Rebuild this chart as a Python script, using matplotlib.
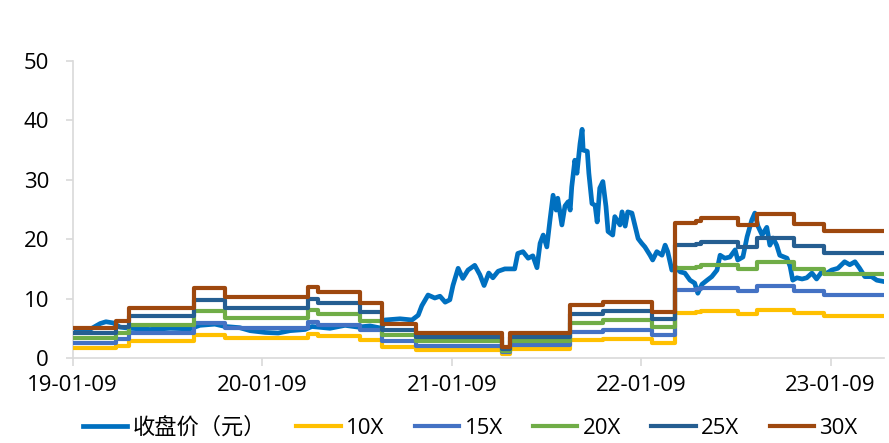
import numpy as np
import pandas as pd
import matplotlib
matplotlib.use("Agg")
import matplotlib.pyplot as plt
import matplotlib.dates as mdates

plt.rcParams['font.family'] = ['Open Sans', 'Noto Sans CJK SC', 'DejaVu Sans']

# closing price (yuan)
price_dates = [
    '2019-01-09', '2019-02-11', '2019-03-03', '2019-03-14', '2019-03-28', '2019-04-10',
    '2019-04-29', '2019-06-07', '2019-07-16', '2019-08-23', '2019-09-11', '2019-10-10',
    '2019-10-30', '2019-11-27', '2019-12-17', '2020-01-15', '2020-02-09', '2020-03-03',
    '2020-04-01', '2020-04-14', '2020-05-19', '2020-06-17', '2020-07-12', '2020-08-04',
    '2020-08-27', '2020-09-02', '2020-10-01', '2020-10-24', '2020-11-05', '2020-11-12',
    '2020-11-24', '2020-12-07', '2020-12-17', '2020-12-27', '2021-01-05', '2021-01-11',
    '2021-01-21', '2021-01-30', '2021-02-09', '2021-02-22', '2021-03-04', '2021-03-12',
    '2021-03-21', '2021-03-29', '2021-04-08', '2021-04-21', '2021-05-10', '2021-05-16',
    '2021-05-26', '2021-06-05', '2021-06-14', '2021-06-22', '2021-06-28', '2021-07-04',
    '2021-07-11', '2021-07-17', '2021-07-23', '2021-07-29', '2021-08-01', '2021-08-09',
    '2021-08-15', '2021-08-21', '2021-08-25', '2021-08-28', '2021-09-03', '2021-09-07',
    '2021-09-13', '2021-09-17', '2021-09-19', '2021-09-27', '2021-09-30', '2021-10-06',
    '2021-10-12', '2021-10-16', '2021-10-21', '2021-10-27', '2021-11-02', '2021-11-06',
    '2021-11-15', '2021-11-19', '2021-11-29', '2021-12-03', '2021-12-09', '2021-12-14',
    '2021-12-22', '2022-01-03', '2022-01-10', '2022-01-16', '2022-01-26', '2022-01-31',
    '2022-02-08', '2022-02-18', '2022-02-24', '2022-03-01', '2022-03-09', '2022-03-15',
    '2022-03-25', '2022-04-03', '2022-04-13', '2022-04-22', '2022-04-28', '2022-05-06',
    '2022-05-16', '2022-05-25', '2022-06-04', '2022-06-10', '2022-06-19', '2022-06-29',
    '2022-07-09', '2022-07-14', '2022-07-24', '2022-08-01', '2022-08-10', '2022-08-16',
    '2022-08-22', '2022-08-30', '2022-09-08', '2022-09-14', '2022-09-20', '2022-09-27',
    '2022-10-03', '2022-10-17', '2022-10-23', '2022-10-28', '2022-11-05', '2022-11-15',
    '2022-11-24', '2022-12-04', '2022-12-13', '2022-12-23', '2023-01-02', '2023-01-11',
    '2023-01-23', '2023-02-05', '2023-02-15', '2023-02-25', '2023-03-06', '2023-03-16',
    '2023-03-29', '2023-04-08', '2023-04-20',
]
price = [
    4.7, 4.8, 5.8, 6.1, 5.9, 5.2,
    5.0, 4.8, 5.0, 4.9, 5.5, 5.7,
    5.3, 5.1, 4.6, 4.3, 4.2, 4.6,
    4.8, 5.3, 5.0, 5.5, 5.2, 5.4,
    5.0, 6.4, 6.6, 6.4, 7.2, 8.8,
    10.6, 10.1, 10.4, 9.4, 9.8, 12.2,
    15.1, 13.4, 14.8, 15.6, 14.0, 12.2,
    14.3, 13.5, 14.6, 15.0, 15.0, 17.6,
    17.9, 16.8, 17.2, 15.2, 19.3, 20.7,
    18.7, 23.2, 27.4, 24.9, 26.9, 22.4,
    25.6, 26.3, 24.9, 28.8, 33.3, 31.1,
    36.1, 38.5, 35.0, 34.8, 31.1, 26.0,
    25.7, 22.9, 28.6, 29.7, 25.5, 21.3,
    20.7, 23.8, 22.4, 24.6, 22.2, 24.6,
    24.4, 20.1, 19.3, 18.7, 17.3, 16.5,
    17.9, 17.3, 19.0, 17.9, 14.8, 15.4,
    14.5, 14.3, 13.1, 12.6, 10.9, 12.4,
    13.1, 13.7, 14.8, 17.3, 16.8, 17.0,
    18.2, 16.5, 17.0, 20.4, 23.2, 24.4,
    22.2, 20.7, 22.0, 19.0, 20.2, 19.0,
    17.3, 16.8, 15.4, 13.1, 13.5, 13.3,
    13.5, 14.3, 13.3, 14.5, 14.3, 14.8,
    15.1, 16.2, 15.7, 16.2, 15.1, 13.7,
    13.7, 13.1, 12.9,
]

# trailing EPS, changes on report dates
eps_dates = [
    '2019-01-09', '2019-04-03', '2019-04-28', '2019-08-31', '2019-10-29', '2020-04-06',
    '2020-04-26', '2020-07-16', '2020-08-27', '2020-10-31', '2021-04-15', '2021-05-01',
    '2021-08-24', '2021-10-27', '2022-01-29', '2022-03-15', '2022-04-25', '2022-05-04',
    '2022-07-14', '2022-08-21', '2022-10-31', '2022-12-28',
]
eps = [
    0.167, 0.210, 0.280, 0.393, 0.340, 0.400,
    0.370, 0.310, 0.190, 0.140, 0.063, 0.143,
    0.297, 0.317, 0.260, 0.760, 0.770, 0.783,
    0.747, 0.807, 0.753, 0.710,
]
end_date = '2023-04-20'

multiples = [10, 15, 20, 25, 30]
band_labels = ['10X', '15X', '20X', '25X', '30X']
band_colors = ['#FFC000', '#4472C4', '#70AD47', '#255E91', '#9E480E']

fig = plt.figure(figsize=(8.89, 4.43), dpi=100)
ax = fig.add_axes([0.0818, 0.1919, 0.9126, 0.6704])

pd_dates = pd.to_datetime(price_dates)
ax.plot(pd_dates, price, color='#0070C0', lw=3.4, label='收盘价（元）',
        solid_joinstyle='round', zorder=2)

step_x = pd.to_datetime(eps_dates + [end_date])
eps_arr = np.array(eps + [eps[-1]])
for m, lab, c in zip(multiples, band_labels, band_colors):
    ax.step(step_x, eps_arr * m, where='post', color=c, lw=3.0, label=lab,
            solid_joinstyle='round', zorder=3)

ax.set_ylim(0, 50)
ax.set_yticks(range(0, 51, 10))
ax.set_xlim(pd.Timestamp('2019-01-09'), pd.Timestamp('2023-04-22'))
ax.set_xticks(pd.to_datetime(['2019-01-09', '2020-01-09', '2021-01-09',
                              '2022-01-09', '2023-01-09']))
ax.xaxis.set_major_formatter(mdates.DateFormatter('%y-%m-%d'))

for s in ['top', 'right']:
    ax.spines[s].set_visible(False)
for s in ['left', 'bottom']:
    ax.spines[s].set_color('#D9D9D9')
    ax.spines[s].set_linewidth(1.2)
ax.tick_params(axis='y', length=5, width=1.2, color='#D9D9D9', pad=12,
               labelsize=16, labelcolor='#000000')
ax.tick_params(axis='x', length=6, width=1.2, color='#D9D9D9', pad=6,
               labelsize=16, labelcolor='#000000')

ax.legend(loc='center', bbox_to_anchor=(0.529, 0.033), bbox_transform=fig.transFigure,
          ncol=6, frameon=False, fontsize=16, handlelength=2.0, handletextpad=0.25,
          columnspacing=1.35, borderaxespad=0.0, borderpad=0.0)

fig.savefig('out.png', dpi=100)
